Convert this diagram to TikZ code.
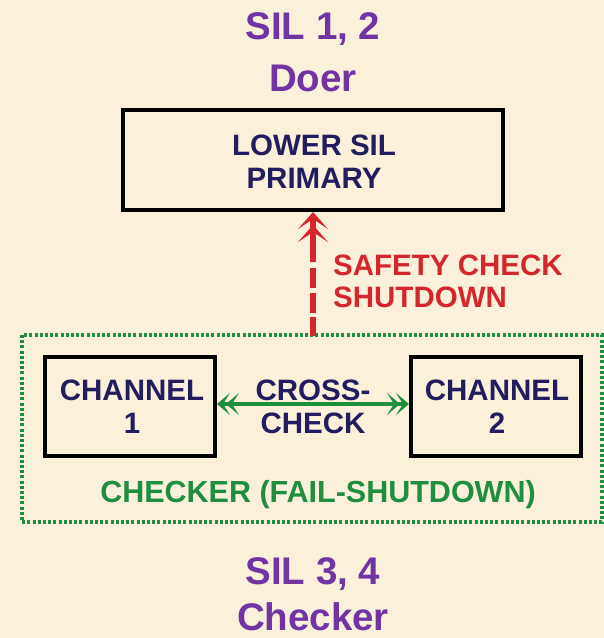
\documentclass[tikz,border=0pt]{standalone}
\usepackage{fontspec}
\setmainfont{Liberation Sans}
\usetikzlibrary{arrows.meta}
\definecolor{bgc}{HTML}{FBF1DA}
\definecolor{titlec}{HTML}{7233A3}
\definecolor{navyc}{HTML}{221D5E}
\definecolor{redc}{HTML}{D6262D}
\definecolor{greenc}{HTML}{1F8E3D}
\tikzset{
  title/.style={text=titlec,font=\fontsize{38.5}{46}\selectfont\bfseries,anchor=base,inner sep=0pt},
  boxtext/.style={text=navyc,font=\fontsize{29.5}{34}\selectfont\bfseries,anchor=base,inner sep=0pt},
  blackbox/.style={draw=black,line width=4pt},
  redlbl/.style={text=redc,font=\fontsize{29.5}{32}\selectfont\bfseries,anchor=base west,inner sep=0pt},
  greenlbl/.style={text=greenc,font=\fontsize{30.5}{32}\selectfont\bfseries,anchor=base,inner sep=0pt},
  gtip/.tip={Stealth[length=13pt,width=22pt,inset=7pt,sep=-4pt] Stealth[length=13pt,width=22pt,inset=7pt]},
  rtip/.tip={Stealth[length=17pt,width=30pt,inset=10pt,sep=-4pt] Stealth[length=17pt,width=30pt,inset=10pt]},
}
\begin{document}
\begin{tikzpicture}[x=1pt,y=-1pt]
\fill[bgc] (0,0) rectangle (604,638);
\useasboundingbox (0,0) rectangle (604,638);
% titles
\node[title] (t1a) at (313,39) {SIL 1, 2};
\node[title] (t1b) at (313,91) {Doer};
\node[title] (t2a) at (313,584) {SIL 3, 4};
\node[title] (t2b) at (313,630) {Checker};
% top box
\draw[blackbox] (123,110) rectangle (503,210);
\coordinate (topS) at (313,212);
\node[boxtext] (topa) at (314,155) {LOWER SIL};
\node[boxtext] (topb) at (314,188) {PRIMARY};
% dotted checker box
\draw[greenc,line width=3.2pt,dash pattern=on 3pt off 2.2pt] (22,335) rectangle (602,522);
\coordinate (chkN) at (313,336);
% channel boxes
\draw[blackbox] (45,357) rectangle (215,456);
\draw[blackbox] (411,357) rectangle (581,456);
\coordinate (c1E) at (217,404);
\coordinate (c2W) at (409,404);
\node[boxtext] (ch1a) at (132,400) {CHANNEL};
\node[boxtext] (ch1b) at (132,433) {1};
\node[boxtext] (ch2a) at (497,400) {CHANNEL};
\node[boxtext] (ch2b) at (497,433) {2};
\node[boxtext] (cca) at (313,400) {CROSS-};
\node[boxtext] (ccb) at (313,433) {CHECK};
% green double arrow
\draw[greenc,line width=4.5pt,gtip-gtip] (c1E) -- (c2W);
% red arrow
\coordinate (rmid) at (313,262);
\draw[redc,line width=6pt,dash pattern=on 19pt off 4pt on 20pt off 5pt on 20pt off 6pt] (chkN) -- (rmid);
\draw[redc,line width=6pt,-rtip] (rmid) -- (topS);
\node[redlbl] (sca) at (333,275) {SAFETY CHECK};
\node[redlbl] (scb) at (333,307) {SHUTDOWN};
\node[greenlbl] (chk) at (318,502) {CHECKER (FAIL-SHUTDOWN)};
\end{tikzpicture}
\end{document}
